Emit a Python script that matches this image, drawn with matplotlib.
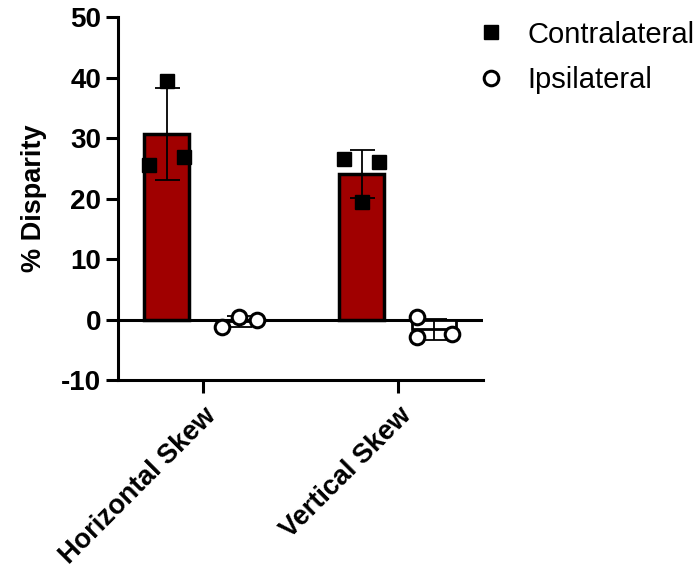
import numpy as np
import matplotlib
matplotlib.use('Agg')
import matplotlib.pyplot as plt
from matplotlib.lines import Line2D

plt.rcParams['font.family'] = ['Liberation Sans', 'DejaVu Sans']
plt.rcParams['axes.unicode_minus'] = False

categories = ['Horizontal Skew', 'Vertical Skew']
contra_points = [[25.6, 39.5, 26.9], [26.6, 19.5, 26.0]]
ipsi_points = [[-1.3, 0.5, -0.1], [0.4, -2.8, -2.4]]
series_names = ['Contralateral', 'Ipsilateral']
yticks = [-10, 0, 10, 20, 30, 40, 50]

# horizontal scatter of the individual points within each bar
contra_jit = [[-0.09, 0.0, 0.09], [-0.09, 0.0, 0.09]]
ipsi_jit = [[-0.09, 0.0, 0.09], [-0.09, -0.09, 0.09]]

fig = plt.figure(figsize=(6.98, 5.69), dpi=100)
ax = fig.add_axes([0.169, 0.332, 0.523, 0.638])

x = np.arange(len(categories))
off = 0.185
w = 0.23

contra_mean = [np.mean(p) for p in contra_points]
contra_sd = [np.std(p, ddof=1) for p in contra_points]
ipsi_mean = [np.mean(p) for p in ipsi_points]
ipsi_sd = [np.std(p, ddof=1) for p in ipsi_points]

ax.bar(x - off, contra_mean, width=w, color='#a00000', edgecolor='black',
       linewidth=2.5, zorder=2)
ax.bar(x + off, ipsi_mean, width=w, color='white', edgecolor='black',
       linewidth=2.0, zorder=2)
ax.errorbar(x - off, contra_mean, yerr=contra_sd, fmt='none', ecolor='black',
            elinewidth=1.3, capsize=9, capthick=1.3, zorder=3)
ax.errorbar(x + off, ipsi_mean, yerr=ipsi_sd, fmt='none', ecolor='black',
            elinewidth=1.3, capsize=9, capthick=1.3, zorder=3)

for i in range(len(categories)):
    ax.plot(x[i] - off + np.array(contra_jit[i]), contra_points[i], 's', color='black',
            markersize=10.5, zorder=4, clip_on=False)
    ax.plot(x[i] + off + np.array(ipsi_jit[i]), ipsi_points[i], 'o', markerfacecolor='white',
            markeredgecolor='black', markeredgewidth=2.2, markersize=10.5,
            zorder=4, clip_on=False)

ax.axhline(0, color='black', linewidth=2.2, zorder=1)

ax.set_xlim(-0.436, 1.436)
ax.set_ylim(-10, 50)
ax.set_yticks(yticks)
ax.set_xticks(x)
ax.set_xticklabels(categories, rotation=45, ha='right', rotation_mode='anchor',
                   fontsize=19.5, fontweight='bold')
ax.tick_params(axis='y', labelsize=20, width=2.2, length=9, pad=3)
ax.tick_params(axis='x', width=2.2, length=9, pad=7)
for lbl in ax.get_yticklabels():
    lbl.set_fontweight('bold')
ax.set_ylabel('% Disparity', fontsize=19.5, fontweight='bold', labelpad=10)

for s in ['top', 'right']:
    ax.spines[s].set_visible(False)
for s in ['left', 'bottom']:
    ax.spines[s].set_linewidth(2.2)

handles = [
    Line2D([], [], marker='s', linestyle='none', color='black', markersize=10.5),
    Line2D([], [], marker='o', linestyle='none', markerfacecolor='white',
           markeredgecolor='black', markeredgewidth=2.2, markersize=10.5),
]
fig.legend(handles, series_names, loc='upper left', bbox_to_anchor=(0.645, 1.01),
           frameon=False, fontsize=21, handlelength=1.0, handletextpad=0.75,
           labelspacing=0.6)

fig.savefig('out.png', dpi=100, facecolor='white')
